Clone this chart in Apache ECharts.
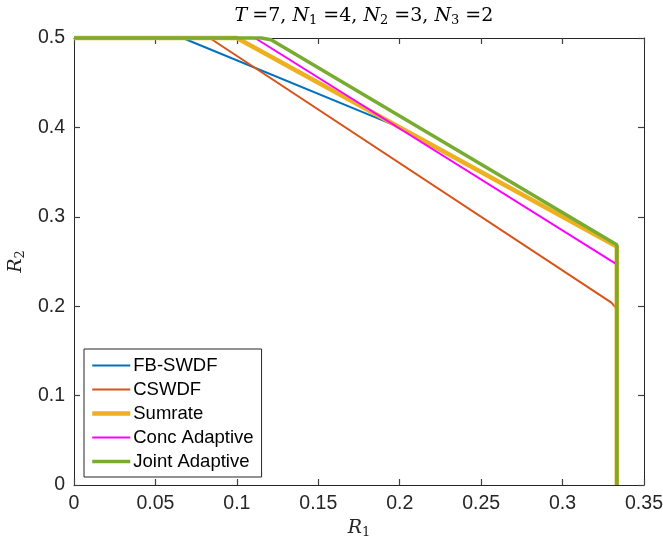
<!DOCTYPE html>
<html><head><meta charset="utf-8">
<script src="https://cdn.jsdelivr.net/npm/echarts@6/dist/echarts.min.js"></script>
<style>html,body{margin:0;padding:0;background:#fff}#c{width:663px;height:543px}</style>
</head><body><div id="c"></div>
<script>
const seriesNames = ['FB-SWDF','CSWDF','Sumrate','Conc Adaptive','Joint Adaptive'];
const fbX = [0, 0.0667, 0.2, 0.3333, 0.3333];
const fbY = [0.5, 0.5, 0.4, 0.2667, 0];
const csX = [0, 0.0833, 0.330, 0.3333, 0.3333];
const csY = [0.5, 0.5, 0.204, 0.197, 0];
const sumX = [0, 0.1, 0.3333, 0.3333];
const sumY = [0.5, 0.5, 0.2667, 0];
const concX = [0, 0.1111, 0.3333, 0.3333];
const concY = [0.5, 0.5, 0.2467, 0];
const jointX = [0, 0.115, 0.121, 0.3333, 0.3333];
const jointY = [0.5, 0.5, 0.498, 0.2687, 0];
const xTicks = [0, 0.05, 0.1, 0.15, 0.2, 0.25, 0.3, 0.35];
const yTicks = [0, 0.1, 0.2, 0.3, 0.4, 0.5];

const colors = ['#0072BD','#D95319','#EDB120','#FF00FF','#77AC30'];
const widths = [2, 2, 4.5, 2, 3.5];
const legendWidths = [2, 2, 4.5, 2, 3.5];
const xs = [fbX, csX, sumX, concX, jointX];
const ys = [fbY, csY, sumY, concY, jointY];
const pair = (a,b) => a.map((v,i)=>[v,b[i]]);

const axColor = '#262626';
const sans = 'Liberation Sans';
const serif = 'DejaVu Serif';
function xAx(pos, show){
  return {type:'value', position:pos, min:0, max:0.35, interval:0.05,
    axisLine:{show:true, onZero:false, lineStyle:{color:axColor,width:1}},
    axisTick:{show:true, inside:true, length:6, lineStyle:{color:'#404040',width:1.2}},
    axisLabel:{show:show, color:axColor, fontFamily:sans, fontSize:19.5, margin:9,
      formatter:v=>String(+v.toFixed(2))},
    splitLine:{show:false}};
}
function yAx(pos, show){
  return {type:'value', position:pos, min:0, max:0.5, interval:0.1,
    axisLine:{show:true, onZero:false, lineStyle:{color:axColor,width:1}},
    axisTick:{show:true, inside:true, length:6, lineStyle:{color:'#404040',width:1.2}},
    axisLabel:{show:show, color:axColor, fontFamily:sans, fontSize:19.5, margin:9,
      formatter:v=>String(+v.toFixed(1))},
    splitLine:{show:false}};
}
const nameRich = {rich:{i:{fontFamily:serif,fontStyle:'italic',fontSize:19,color:axColor},
  s:{fontFamily:serif,fontSize:13,color:axColor,verticalAlign:'bottom',padding:[8,0,0,0]}}};
const xb = xAx('bottom', true);
xb.name = '{i|R}{s|1}'; xb.nameLocation='middle'; xb.nameGap=26; xb.nameTextStyle = nameRich;
const xt = xAx('top', false);
const yl = yAx('left', true);
yl.name = '{i|R}{s|2}'; yl.nameLocation='middle'; yl.nameGap=43; yl.nameTextStyle = nameRich;
const yr = yAx('right', false);

const chart = echarts.init(document.getElementById('c'), null, {renderer:'canvas'});
chart.setOption({
  animation:false,
  backgroundColor:'#fff',
  title:{
    text:'{i|T} {n|=7, }{i|N}{s|1}{n| =4, }{i|N}{s|2}{n| =3, }{i|N}{s|3}{n| =2}',
    left:359, top:1, textAlign:'center',
    textStyle:{fontWeight:'normal', rich:{
      i:{fontFamily:serif,fontStyle:'italic',fontWeight:'normal',fontSize:19,color:'#000'},
      n:{fontFamily:serif,fontWeight:'normal',fontSize:19,color:'#000'},
      s:{fontFamily:serif,fontWeight:'normal',fontSize:13,color:'#000',verticalAlign:'bottom',padding:[8,0,0,0]}
    }}
  },
  grid:{left:74, right:19, top:38, bottom:58, containLabel:false, outerBoundsMode:'none'},
  xAxis:[xb, xt],
  yAxis:[yl, yr],
  legend:{
    orient:'vertical', left:84, top:349,
    data: seriesNames.map((n,i)=>({name:n, lineStyle:{width:legendWidths[i], color:colors[i]}})),
    backgroundColor:'#fff', borderColor:axColor, borderWidth:1, borderRadius:0,
    padding:[7,8,6,6], itemGap:5, itemWidth:38, itemHeight:19.3,
    itemStyle:{opacity:0},
    textStyle:{fontFamily:sans, fontSize:18.5, color:'#000', padding:[0,0,0,-2]}
  },
  series: seriesNames.map((n,i)=>({
    name:n, type:'line', xAxisIndex:0, yAxisIndex:0,
    data: pair(xs[i], ys[i]), symbol:'none', showSymbol:false, clip:false,
    lineStyle:{color:colors[i], width:widths[i]}, itemStyle:{color:colors[i]},
    z: 2+i
  }))
});
</script></body></html>
